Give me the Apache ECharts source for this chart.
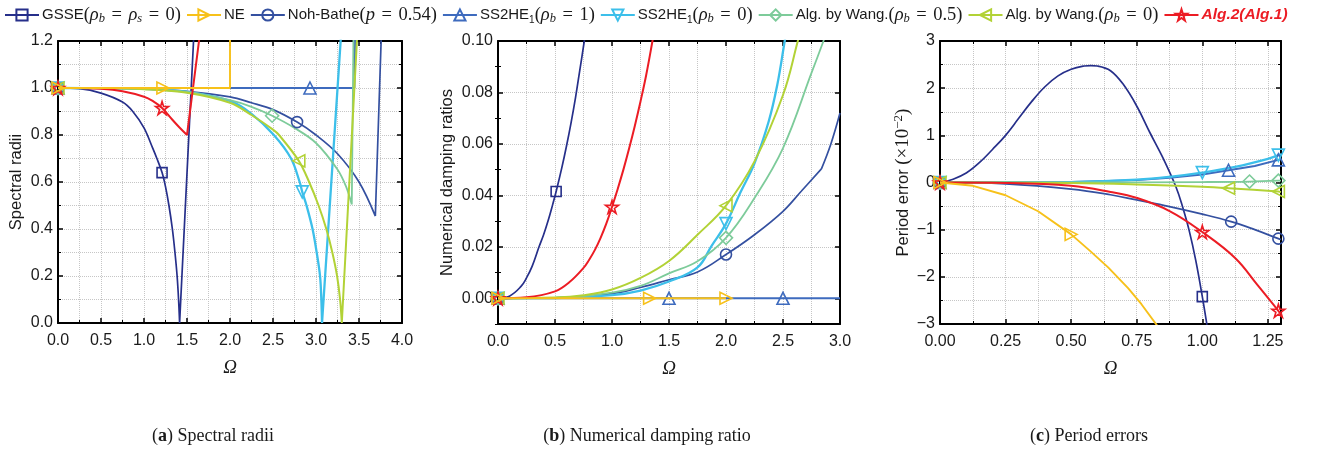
<!DOCTYPE html>
<html><head><meta charset="utf-8">
<script src="https://cdn.jsdelivr.net/npm/echarts@6/dist/echarts.min.js"></script>
<style>html,body{margin:0;padding:0;background:#fff}#c{width:1317px;height:453px}</style>
</head><body><div id="c"></div>
<script>
// ---------------- series names ----------------
const CATS = ['GSSE(ρb = ρs = 0)','NE','Noh-Bathe(p = 0.54)','SS2HE1(ρb = 1)','SS2HE1(ρb = 0)','Alg. by Wang.(ρb = 0.5)','Alg. by Wang.(ρb = 0)','Alg.2(Alg.1)'];

// ---------------- (a) spectral radii ----------------
const A_GSSE = [[0,1],[0.25,0.997],[0.5,0.978],[0.75,0.94],[0.87,0.9],[1.0,0.83],[1.1,0.745],[1.15,0.7],[1.21,0.64],[1.25,0.58],[1.29,0.5],[1.33,0.4],[1.36,0.3],[1.385,0.2],[1.402,0.1],[1.414,0],[1.58,1.23]];
const A_NE   = [[0,1],[1.22,1],[2.0,1],[2.0,1.25]];
const A_NOH  = [[0,1],[0.5,0.9995],[1.0,0.996],[1.5,0.986],[2.0,0.962],[2.25,0.937],[2.5,0.908],[2.78,0.855],[3.0,0.8],[3.25,0.72],[3.5,0.6],[3.69,0.455],[3.76,1.23]];
const A_SS1  = [[0,1],[2.93,1],[3.447,1],[3.455,1.23]];
const A_SS0  = [[0,1],[0.5,0.9995],[1.0,0.996],[1.5,0.983],[2.0,0.945],[2.25,0.89],[2.51,0.8],[2.71,0.7],[2.81,0.6],[2.84,0.558],[2.89,0.5],[2.96,0.4],[3.008,0.3],[3.047,0.2],[3.062,0.1],[3.07,0],[3.292,1.23]];
const A_W05  = [[0,1],[0.5,0.9995],[1.0,0.996],[1.5,0.983],[2.0,0.948],[2.25,0.92],[2.49,0.882],[2.75,0.83],[3.0,0.766],[3.25,0.653],[3.35,0.58],[3.416,0.504],[3.436,1.23]];
const A_W0   = [[0,1],[0.5,0.9995],[1.0,0.995],[1.5,0.98],[2.0,0.937],[2.25,0.885],[2.5,0.823],[2.57,0.8],[2.8,0.69],[2.92,0.6],[3.03,0.5],[3.12,0.4],[3.19,0.3],[3.245,0.2],[3.28,0.1],[3.3,0],[3.48,1.23]];
const A_ALG  = [[0,1],[0.25,0.9995],[0.5,0.997],[0.75,0.986],[1.0,0.963],[1.1,0.945],[1.21,0.915],[1.33,0.865],[1.41,0.833],[1.5,0.8],[1.65,1.23]];
const A_MARK = [[1.21],[1.22],[2.78],[2.93],[2.84],[2.49],[2.8],[1.21]];
const A_KINK = [1.414, null, 3.69, null, 3.07, 3.416, 3.3, 1.5];   // where a curve turns sharply (no smoothing across)

// ---------------- (b) numerical damping ratio ----------------
const B_GSSE = [[0,0],[0.1,0.0008],[0.2,0.0045],[0.25,0.0079],[0.3,0.0125],[0.36,0.02],[0.4,0.0247],[0.44,0.0302],[0.48,0.0365],[0.51,0.0415],[0.56,0.0508],[0.6,0.059],[0.64,0.068],[0.68,0.078],[0.717,0.0885],[0.757,0.1],[0.765,0.103]];
const B_NE   = [[0,0],[1.33,0],[2.0,0]];
const B_NOH  = [[0,0],[0.5,0.0002],[1.0,0.0018],[1.25,0.0042],[1.5,0.0072],[1.75,0.0102],[2.0,0.017],[2.25,0.0247],[2.5,0.0338],[2.66,0.0416],[2.837,0.0503],[2.92,0.06],[3.0,0.072]];
const B_SS1  = [[0,0],[1.5,0],[2.5,0],[3.0,0]];
const B_SS0  = [[0,0],[0.5,0.0001],[1.0,0.0012],[1.25,0.003],[1.5,0.0065],[1.75,0.012],[1.875,0.0205],[2.0,0.029],[2.125,0.041],[2.25,0.0525],[2.375,0.0688],[2.45,0.083],[2.515,0.1],[2.53,0.104]];
const B_W05  = [[0,0],[0.5,0.0001],[1.0,0.0022],[1.25,0.0048],[1.5,0.0097],[1.75,0.0144],[2.0,0.0235],[2.25,0.039],[2.5,0.0584],[2.75,0.0876],[2.855,0.1],[2.87,0.102]];
const B_W0   = [[0,0],[0.5,0.0003],[0.75,0.0012],[1.0,0.0034],[1.25,0.0079],[1.5,0.0145],[1.75,0.0247],[2.0,0.036],[2.25,0.0532],[2.5,0.079],[2.63,0.1],[2.64,0.102]];
const B_ALG  = [[0,0],[0.25,0.0004],[0.5,0.0027],[0.625,0.0062],[0.75,0.0118],[0.8,0.015],[0.85,0.0188],[0.9,0.0235],[0.95,0.029],[1.0,0.0355],[1.05,0.0425],[1.1,0.05],[1.15,0.0582],[1.2,0.067],[1.25,0.0765],[1.3,0.0868],[1.355,0.1],[1.37,0.104]];
const B_MARK = [[0.51],[1.33,2.0],[2.0],[1.5,2.5],[2.0],[2.0],[2.0],[1.0]];
const B_KINK = [null, null, 2.837, null, null, null, null, null];

// ---------------- (c) period errors (x10^-2) ----------------
const C_GSSE = [[0,0],[0.05,0.07],[0.1,0.2],[0.15,0.42],[0.2,0.7],[0.25,1.0],[0.3,1.36],[0.35,1.72],[0.4,2.03],[0.45,2.26],[0.5,2.4],[0.55,2.47],[0.575,2.48],[0.6,2.47],[0.65,2.37],[0.7,2.07],[0.752,1.6],[0.8,1.06],[0.85,0.52],[0.9,-0.1],[0.925,-0.52],[0.95,-1.02],[0.975,-1.65],[1.0,-2.42],[1.02,-3.1]];
const C_NE   = [[0,0],[0.126,-0.07],[0.25,-0.27],[0.374,-0.61],[0.5,-1.1],[0.574,-1.46],[0.641,-1.8],[0.717,-2.24],[0.768,-2.58],[0.83,-3.05]];
const C_NOH  = [[0,0],[0.25,-0.03],[0.5,-0.14],[0.65,-0.26],[0.75,-0.37],[0.875,-0.51],[1.0,-0.67],[1.11,-0.83],[1.2,-1.0],[1.29,-1.19],[1.3,-1.21]];
const C_SS1  = [[0,0],[0.25,0],[0.5,0.01],[0.75,0.05],[0.875,0.1],[1.0,0.17],[1.1,0.26],[1.2,0.35],[1.29,0.48],[1.3,0.49]];
const C_SS0  = [[0,0],[0.25,0],[0.5,0.01],[0.75,0.06],[0.875,0.12],[1.0,0.21],[1.125,0.33],[1.25,0.5],[1.29,0.58],[1.3,0.6]];
const C_W05  = [[0,0],[0.5,0],[1.0,0.01],[1.18,0.02],[1.29,0.04],[1.3,0.04]];
const C_W0   = [[0,0],[0.5,-0.01],[0.75,-0.04],[1.0,-0.09],[1.1,-0.12],[1.29,-0.19],[1.3,-0.2]];
const C_ALG  = [[0,0],[0.25,-0.01],[0.5,-0.07],[0.65,-0.2],[0.752,-0.33],[0.877,-0.61],[1.0,-1.05],[1.125,-1.6],[1.21,-2.17],[1.29,-2.72],[1.3,-2.8]];
const C_MARK = [[1.0],[0.5],[1.11,1.29],[1.1,1.29],[1.0,1.29],[1.18,1.29],[1.1,1.29],[1.0,1.29]];
const C_KINK = [null, null, null, null, null, null, null, null];

// ---------------- tick labels ----------------
const B_YLABELS = [0,0.02,0.04,0.06,0.08,0.10];
const B_YMINOR  = [-0.01,0.01,0.03,0.05,0.07,0.09];

// ---------------- styles ----------------
const STAR = 'path://M50,0 L61.2,34.5 L97.6,34.5 L68.2,55.9 L79.4,90.5 L50,69.1 L20.6,90.5 L31.8,55.9 L2.4,34.5 L38.8,34.5 Z';
const STY = [
  {c:'#262F8A', s:'rect', r:0, w:1.7, sz:10, sm:true},
  {c:'#F7C11A', s:'triangle', r:-90, w:1.9, sz:12, z:3, sm:false},
  {c:'#3450A0', s:'circle', r:0, w:1.7, sz:11, sm:true},
  {c:'#3E6BBE', s:'triangle', r:0, w:1.9, sz:12, sm:false},
  {c:'#3CBFEA', s:'triangle', r:180, w:2.3, sz:12, sm:true},
  {c:'#7DCB9A', s:'diamond', r:0, w:1.8, sz:13, sm:true},
  {c:'#B2D236', s:'triangle', r:90, w:2.0, sz:12, sm:true},
  {c:'#EC1C24', s:STAR, r:0, w:2.0, sz:13, sm:true}
];

const PANELS = [
  {left:58, top:41, width:344, height:282, x:[0,4,0.5], y:[0,1.2,0.2], data:[A_GSSE,A_NE,A_NOH,A_SS1,A_SS0,A_W05,A_W0,A_ALG], marks:A_MARK, kinks:A_KINK,
   xf:v=>v.toFixed(1), yf:v=>v.toFixed(1), yname:'Spectral radii', ygap:33, smooth:0.35},
  {left:498, top:41, width:342, height:283, x:[0,3,0.5], y:[-0.01,0.10,0.01], data:[B_GSSE,B_NE,B_NOH,B_SS1,B_SS0,B_W05,B_W0,B_ALG], marks:B_MARK, kinks:B_KINK,
   xf:v=>v.toFixed(1), yf:v=>{const k=Math.round(v*100);return (k>=0&&k%2===0)?v.toFixed(2):'';}, yname:'Numerical damping ratios', ygap:42, smooth:0.4, yCustom:true},
  {left:940, top:41, width:341, height:283, x:[0,1.3,0.25], y:[-3,3,1], data:[C_GSSE,C_NE,C_NOH,C_SS1,C_SS0,C_W05,C_W0,C_ALG], marks:C_MARK, kinks:C_KINK,
   xf:v=>{const k=Math.round(v*100);return k%25===0?v.toFixed(2):'';}, yf:v=>v<0?'\u2212'+Math.abs(v):String(v),
   yname:'{t|Period error }{m|(×10}{sup|\u22122}{m|)}', ygap:25, smooth:0.4}
];

const TXT = '#1a1a1a';
const AXLINE = {show:true, onZero:false, lineStyle:{color:'#000', width:2}};
const GRIDLS = {color:'#c6c6c6', width:1, type:'dotted'};

function axisX(P,g,pos,main){
  return {type:'value', gridIndex:g, position:pos, min:P.x[0], max:P.x[1], interval:P.x[2],
    axisLine:AXLINE,
    axisTick:{show:true, inside:true, length:5, lineStyle:{color:'#000', width:1.5}},
    minorTick:{show:true, splitNumber:2, length:3, lineStyle:{color:'#000', width:1}},
    splitLine:{show:main, lineStyle:GRIDLS}, minorSplitLine:{show:main, lineStyle:GRIDLS},
    axisLabel: main ? {formatter:P.xf, color:TXT, fontSize:16, fontFamily:'Liberation Sans', margin:10} : {show:false},
    name: main ? 'Ω' : '', nameLocation:'middle', nameGap:35,
    nameTextStyle:{fontFamily:'Liberation Serif', fontStyle:'italic', fontSize:19, color:TXT}};
}
function axisY(P,g,pos,main){
  const a = {type:'value', gridIndex:g, position:pos, min:P.y[0], max:P.y[1], interval:P.y[2],
    axisLine:AXLINE,
    axisTick:{show:true, inside:true, length:5, lineStyle:{color:'#000', width:1.5}},
    minorTick:{show:!P.yCustom, splitNumber:2, length:3, lineStyle:{color:'#000', width:1}},
    splitLine:{show:main, lineStyle:GRIDLS}, minorSplitLine:{show:main && !P.yCustom, lineStyle:GRIDLS},
    axisLabel: main ? {formatter:P.yf, color:TXT, fontSize:16, fontFamily:'Liberation Sans', margin:5} : {show:false},
    name: main ? P.yname : '', nameLocation:'middle', nameGap:P.ygap, nameRotate:90,
    nameTextStyle:{fontFamily:'Liberation Sans', fontSize:16.5, color:TXT,
      rich:{t:{fontFamily:'Liberation Sans', fontSize:16.5, color:TXT, lineHeight:22},
            m:{fontFamily:'Liberation Serif', fontSize:19, color:TXT, lineHeight:22},
            sup:{fontFamily:'Liberation Serif', fontSize:13, color:TXT, verticalAlign:'top', lineHeight:13}}}};
  if (P.yCustom) a.axisTick.customValues = B_YLABELS;
  return a;
}
function minorY(P,g,pos){
  return {type:'value', gridIndex:g, position:pos, min:P.y[0], max:P.y[1], interval:P.y[2],
    axisLine:{show:false}, splitLine:{show:false}, axisLabel:{show:false},
    axisTick:{show:true, inside:true, length:3, customValues:B_YMINOR, lineStyle:{color:'#000', width:1}}};
}
function mkData(arr, marks, kink){
  const out = [];
  arr.forEach((p,i)=>{
    const isMark = i===0 || marks.some(m=>Math.abs(m-p[0])<1e-9);
    out.push(isMark ? {value:p} : {value:p, symbol:'none'});
    if (kink != null && Math.abs(kink-p[0])<1e-9 && i < arr.length-1) {
      out.push({value:[p[0], null], symbol:'none'});   // break so the sharp turn is not smoothed
      out.push({value:p, symbol:'none'});
    }
  });
  return out;
}

const grids=[], xAxes=[], yAxes=[], series=[];
PANELS.forEach((P,g)=>{
  grids.push({left:P.left, top:P.top, width:P.width, height:P.height});
  const xi = xAxes.length;
  xAxes.push(axisX(P,g,'bottom',true)); xAxes.push(axisX(P,g,'top',false));
  const yi = yAxes.length;
  yAxes.push(axisY(P,g,'left',true)); yAxes.push(axisY(P,g,'right',false));
  if (P.yCustom){ yAxes.push(minorY(P,g,'left')); yAxes.push(minorY(P,g,'right')); }
  P.data.forEach((arr,k)=>{
    const S = STY[k];
    series.push({type:'line', name:CATS[k], xAxisIndex:xi, yAxisIndex:yi, data:mkData(arr, P.marks[k], P.kinks[k]),
      symbol:S.s, symbolSize:S.sz, symbolRotate:S.r, showSymbol:true, showAllSymbol:true, smooth:S.sm ? P.smooth : false,
      connectNulls:false,
      color:S.c, lineStyle:{color:S.c, width:S.w}, itemStyle:{color:'rgba(255,255,255,0)', borderColor:S.c, borderWidth:1.6},
      z:S.z||2, clip:true, silent:true, animation:false, emphasis:{disabled:true}});
  });
});

const EQ = '{sp| }{m|=}{sp| }';
const LEG = {};
LEG[CATS[0]] = 'GSSE{m|(}{mi|ρ}{sub|b}' + EQ + '{mi|ρ}{sub|s}' + EQ + '{m|0)}';
LEG[CATS[1]] = 'NE';
LEG[CATS[2]] = 'Noh-Bathe{m|(}{mi|p}' + EQ + '{m|0.54)}';
LEG[CATS[3]] = 'SS2HE{ss|1}{m|(}{mi|ρ}{sub|b}' + EQ + '{m|1)}';
LEG[CATS[4]] = 'SS2HE{ss|1}{m|(}{mi|ρ}{sub|b}' + EQ + '{m|0)}';
LEG[CATS[5]] = 'Alg. by Wang.{m|(}{mi|ρ}{sub|b}' + EQ + '{m|0.5)}';
LEG[CATS[6]] = 'Alg. by Wang.{m|(}{mi|ρ}{sub|b}' + EQ + '{m|0)}';
LEG[CATS[7]] = '{red|Alg.2(Alg.1)}';

const capStyle = {fontFamily:'Liberation Serif', fontSize:18, fontWeight:'normal', color:TXT,
  rich:{b:{fontFamily:'Liberation Serif', fontSize:18, fontWeight:'bold', color:TXT}}};

const option = {
  backgroundColor:'#fff', animation:false,
  grid:grids, xAxis:xAxes, yAxis:yAxes, series:series,
  legend:{left:4, top:2, padding:0, itemWidth:34, itemHeight:14, itemGap:5, width:1310, selectedMode:false,
    data:CATS, formatter:n=>LEG[n],
    textStyle:{fontFamily:'Liberation Sans', fontSize:15, color:TXT, lineHeight:20, padding:[0,0,0,-2],
      rich:{m:{fontFamily:'Liberation Serif', fontSize:18.5, color:TXT, lineHeight:20},
            sp:{fontFamily:'Liberation Serif', fontSize:26, color:TXT, lineHeight:20},
            mi:{fontFamily:'Liberation Serif', fontStyle:'italic', fontSize:18.5, color:TXT, lineHeight:20},
            sub:{fontFamily:'Liberation Serif', fontStyle:'italic', fontSize:12.5, color:TXT, verticalAlign:'bottom', lineHeight:12},
            ss:{fontFamily:'Liberation Sans', fontSize:10, color:TXT, verticalAlign:'bottom', lineHeight:12},
            red:{fontFamily:'Liberation Sans', fontSize:15.5, fontWeight:'bold', fontStyle:'italic', color:'#EC1C24', lineHeight:20}}}},
  title:[
    {text:'({b|a}) Spectral radii', left:213, top:427, textAlign:'center', padding:0, textStyle:capStyle},
    {text:'({b|b}) Numerical damping ratio', left:647, top:427, textAlign:'center', padding:0, textStyle:capStyle},
    {text:'({b|c}) Period errors', left:1089, top:427, textAlign:'center', padding:0, textStyle:capStyle}
  ]
};
const chart = echarts.init(document.getElementById('c'), null, {renderer:'canvas'});
chart.setOption(option);
</script>
</body></html>
